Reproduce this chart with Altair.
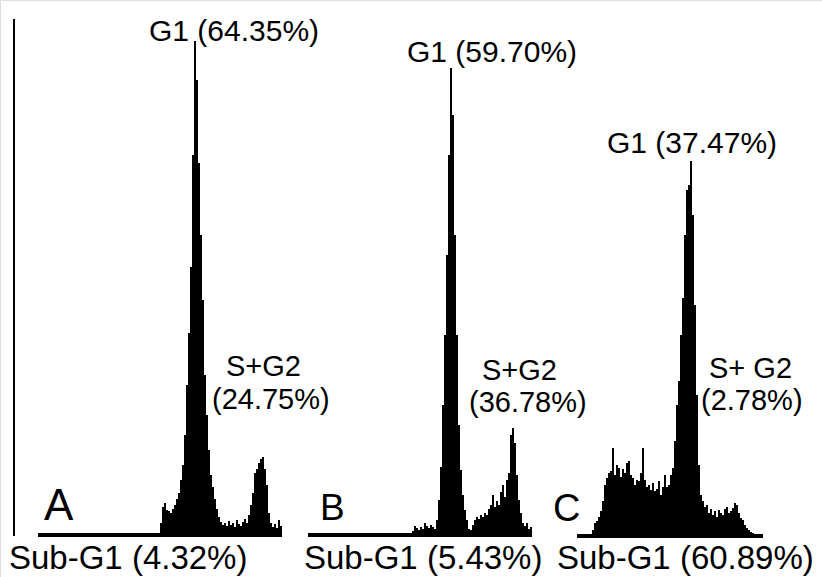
import altair as alt
import pandas as pd

# ---------------- data (counts per 2-channel bin) ----------------
panel_names = ["A", "B", "C"]

counts_a = [12, 28, 32, 25, 24, 22, 26, 30, 36, 42, 55, 70, 100, 150, 202, 268, 380, 494,
            455, 372, 300, 235, 160, 120, 85, 60, 48, 36, 26, 18, 13, 10, 12, 9, 14, 10,
            12, 8, 15, 11, 9, 13, 16, 12, 20, 30, 42, 62, 66, 72, 76, 78, 66, 50, 22, 12,
            8, 11, 7, 15, 9]

counts_b = [4, 9, 7, 5, 8, 6, 12, 9, 7, 10, 8, 6, 15, 35, 68, 130, 200, 280, 380, 467,
            420, 300, 200, 110, 65, 40, 25, 15, 6, 5, 10, 15, 18, 16, 20, 18, 22, 20, 26,
            30, 40, 28, 34, 30, 43, 50, 38, 55, 62, 100, 107, 92, 60, 35, 22, 12, 9, 12,
            6, 8]

counts_c = [5, 12, 14, 18, 24, 34, 50, 57, 62, 64, 87, 60, 70, 67, 58, 66, 62, 72, 74, 60,
            57, 50, 55, 54, 62, 87, 55, 48, 50, 45, 52, 44, 46, 54, 40, 48, 60, 48, 50, 60,
            67, 94, 130, 154, 200, 237, 300, 345, 350, 374, 320, 230, 140, 70, 40, 34, 28,
            30, 22, 26, 20, 24, 18, 25, 22, 20, 26, 28, 22, 24, 27, 32, 30, 22, 17, 15, 10,
            7, 5, 3, 2]

g1_labels = ["G1 (64.35%)", "G1 (59.70%)", "G1 (37.47%)"]
sg2_labels = ["S+G2", "S+G2", "S+ G2"]
sg2_pct = ["(24.75%)", "(36.78%)", "(2.78%)"]
subg1_labels = ["Sub-G1 (4.32%)", "Sub-G1 (5.43%)", "Sub-G1 (60.89%)"]

# ---------------- layout (pixel-like units of the shared scales) ----------------
first_channel = [160, 412, 592]
bin_width = 2
axis_span = [(38, 282), (308, 532), (577, 763)]
g1_pos = [(149, 494), (407, 473), (607, 382)]
sg2_pos = [(226, 159), (482, 155), (709, 157)]
pct_pos = [(212, 126), (469, 123), (701, 125)]
sub_pos = [(9, -34), (304, -34), (557, -34)]
letter_pos = [(44, 15, 44), (320, 15, 37), (553, 14, 38)]

rows = []
for name, start, counts in zip(panel_names, first_channel, [counts_a, counts_b, counts_c]):
    for i, c in enumerate(counts):
        rows.append({"panel": name, "x": start + bin_width * i, "count": c})
    rows.append({"panel": name, "x": start + bin_width * len(counts), "count": counts[-1]})
hist = pd.DataFrame(rows)

axes_df = pd.DataFrame({"panel": panel_names,
                        "x": [s[0] for s in axis_span],
                        "x2": [s[1] for s in axis_span],
                        "y": [0, 0, -1]})

labels = []
for i in range(3):
    labels.append({"x": g1_pos[i][0], "y": g1_pos[i][1], "text": g1_labels[i], "size": 30})
    labels.append({"x": sg2_pos[i][0], "y": sg2_pos[i][1], "text": sg2_labels[i], "size": 29})
    labels.append({"x": pct_pos[i][0], "y": pct_pos[i][1], "text": sg2_pct[i], "size": 29})
    labels.append({"x": sub_pos[i][0], "y": sub_pos[i][1], "text": subg1_labels[i], "size": 33})
    labels.append({"x": letter_pos[i][0], "y": letter_pos[i][1], "text": panel_names[i],
                   "size": letter_pos[i][2]})
labels_df = pd.DataFrame(labels)

xs = alt.Scale(domain=[0, 822], nice=False, zero=False)
ys = alt.Scale(domain=[-42, 535], nice=False, zero=False)

hist_layer = alt.Chart(hist).mark_area(interpolate="step-after", color="black").encode(
    x=alt.X("x:Q", scale=xs, axis=None),
    y=alt.Y("count:Q", scale=ys, axis=None),
    y2=alt.datum(0),
    detail="panel:N",
)

axis_layer = alt.Chart(axes_df).mark_rule(color="black", strokeWidth=4).encode(
    x=alt.X("x:Q", scale=xs, axis=None),
    x2="x2:Q",
    y=alt.Y("y:Q", scale=ys, axis=None),
)

vline = alt.Chart(pd.DataFrame({"x": [14], "y": [516], "y2": [-1]})).mark_rule(
    color="black", strokeWidth=2).encode(
    x=alt.X("x:Q", scale=xs, axis=None),
    y=alt.Y("y:Q", scale=ys, axis=None),
    y2="y2:Q",
)

text_layer = alt.Chart(labels_df).mark_text(
    align="left", baseline="alphabetic", font="Liberation Sans", color="black").encode(
    x=alt.X("x:Q", scale=xs, axis=None),
    y=alt.Y("y:Q", scale=ys, axis=None),
    text="text:N",
    size=alt.Size("size:Q", scale=None, legend=None),
)

chart = alt.layer(vline, axis_layer, hist_layer, text_layer).properties(
    width=822, height=577, autosize="none", padding=0,
).configure_view(stroke=None).configure(background="white")

chart.save("out.html", embed_options={"renderer": "svg", "actions": False})
